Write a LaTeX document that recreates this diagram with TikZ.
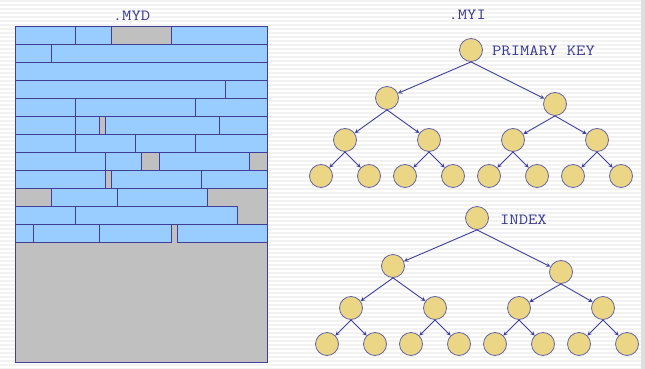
\documentclass[tikz,border=0pt]{standalone}
\usepackage{graphicx}
\usepackage{tikz}
\usetikzlibrary{positioning}
\definecolor{mydblue}{HTML}{99CCFF}
\definecolor{mydgray}{HTML}{C0C0C0}
\definecolor{mydline}{HTML}{3F3F9A}
\definecolor{keyfill}{HTML}{EBD686}
\definecolor{keyline}{HTML}{6464A0}
\definecolor{labelink}{HTML}{383890}
\definecolor{stripe}{HTML}{F2F2F2}
\newcommand{\filelabel}[1]{\scalebox{1.17}[1]{\ttfamily\fontsize{15.5}{16}\selectfont #1}}

\begin{document}
\begin{tikzpicture}[
  x=1pt, y=-1pt,
  reccell/.style={draw=mydline, fill=mydblue, line width=0.9pt},
  keynode/.style={circle, draw=keyline, fill=keyfill, line width=0.8pt, inner sep=0pt, minimum size=23pt},
  labeltext/.style={text=labelink, inner sep=0pt},
  parrow/.style={->, >=stealth, mydline, line width=0.9pt},
]
\useasboundingbox (0,0) rectangle (645,369);
% striped page background
\fill[white] (0,0) rectangle (645,369);
\foreach \yy in {0,4,...,368} {
  \fill[stripe] (0,\yy) rectangle (645,\yy+2);
}
\fill[gray!25] (641,0) rectangle (645,369);

% .MYD data file: 12 rows of records, 6px grid units
\fill[mydgray] (15.3,26.3) rectangle (267.3,362.3);
\foreach \r/\cells in {
  0/{0/10,10/16,26/42}, 1/{0/6,6/42}, 2/{0/42}, 3/{0/35,35/42},
  4/{0/10,10/30,30/42}, 5/{0/10,10/14,15/34,34/42}, 6/{0/10,10/20,20/30,30/42},
  7/{0/15,15/21,24/39}, 8/{0/15,16/31,31/42}, 9/{6/17,17/32},
  10/{0/10,10/37}, 11/{0/3,3/14,14/26,27/42}} {
  \foreach \a/\b in \cells {
    \draw[reccell] ({15.3+6*\a},{26.3+18*\r}) rectangle ({15.3+6*\b},{44.3+18*\r});
  }
}
\draw[mydline, line width=1pt] (15.3,26.3) rectangle (267.3,362.3);
\node[labeltext, anchor=base] (myd) at (131.5,20.3) {\filelabel{.MYD}};

% .MYI index file: two binary trees
\foreach \i/\x/\y in {1/471/50, 2/387/98, 3/555/104,
  4/345/140, 5/429/140, 6/513/140, 7/597/140,
  8/321/176, 9/369/176, 10/405/176, 11/453/176,
  12/489/176, 13/537/176, 14/573/176, 15/621/176} {
  \node[keynode] (p\i) at (\x,\y) {};
  \node[keynode] (q\i) at (\x+6,\y+168) {};
}
\foreach \i in {1,...,7} {
  \pgfmathtruncatemacro{\lc}{2*\i}
  \pgfmathtruncatemacro{\rc}{2*\i+1}
  \foreach \t in {p,q} {
    \draw[parrow] (\t\i.south) -- (\t\lc);
    \draw[parrow] (\t\i.south) -- (\t\rc);
  }
}
\node[labeltext, anchor=base] (myi) at (467.2,20) {\filelabel{.MYI}};
\node[labeltext, right=9pt of p1, yshift=-1pt] (pkey) {\filelabel{PRIMARY KEY}};
\node[labeltext, right=11pt of q1, yshift=-1.5pt] (ikey) {\filelabel{INDEX}};
\end{tikzpicture}
\end{document}
